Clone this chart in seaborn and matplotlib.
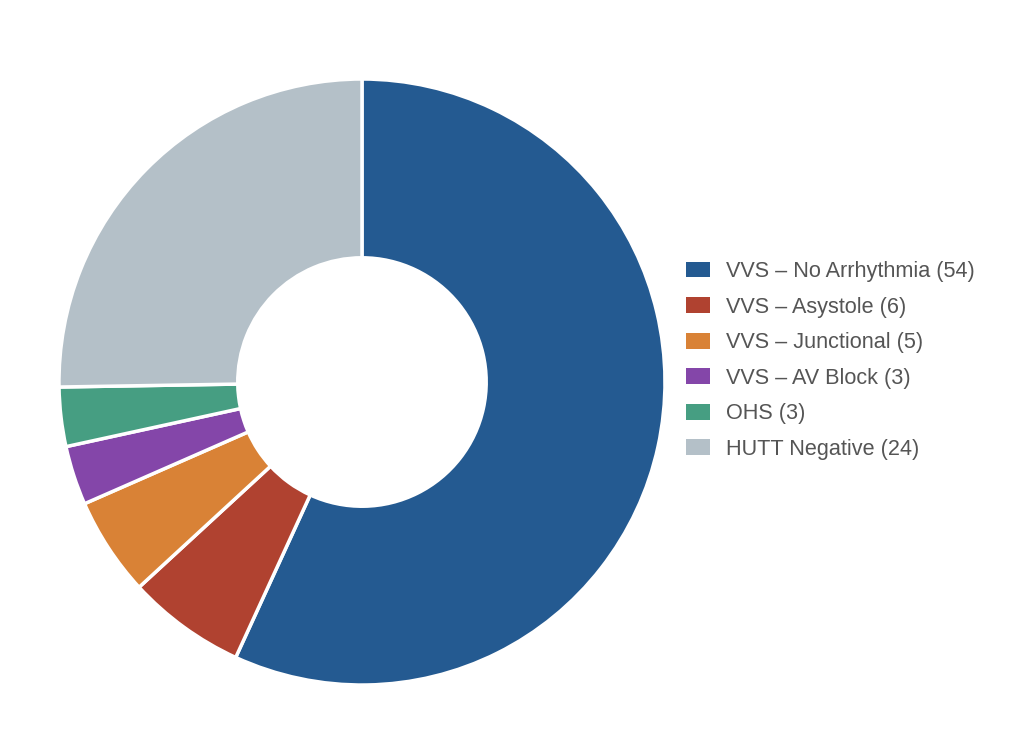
import matplotlib
matplotlib.use("Agg")
import matplotlib.pyplot as plt
import matplotlib.patches as mpatches
import seaborn as sns

categorias = ["VVS – No Arrhythmia", "VVS – Asystole", "VVS – Junctional",
              "VVS – AV Block", "OHS", "HUTT Negative"]
valores = [54, 6, 5, 3, 3, 24]
cores = ["#245a91", "#b04230", "#d98236", "#8446a9", "#469e82", "#b4c0c8"]

sns.set_theme(style="white")
plt.rcParams["font.family"] = ["Liberation Sans", "DejaVu Sans"]
paleta = sns.color_palette(cores)

fig = plt.figure(figsize=(10.24, 7.54), dpi=100)
ax = fig.add_axes([0.0576, 0.0915, 0.5918, 0.8037])

fatias, _ = ax.pie(
    valores, colors=paleta, startangle=90, counterclock=False, radius=1.0,
    wedgeprops=dict(width=0.59, edgecolor="white", linewidth=2.5),
)
ax.set_xlim(-1.0, 1.0)
ax.set_ylim(-1.0, 1.0)
ax.set_aspect("equal")
ax.axis("off")

rotulos = [f"{c} ({v})" for c, v in zip(categorias, valores)]
alcas = [mpatches.Patch(facecolor=cor, edgecolor="none") for cor in paleta]
leg = fig.legend(
    alcas, rotulos, loc="center left", bbox_to_anchor=(0.651, 0.522),
    frameon=False, fontsize=15.6, handlelength=1.12, handleheight=0.75,
    handletextpad=0.7, labelspacing=0.67,
)
for t in leg.get_texts():
    t.set_color("#555555")

fig.savefig("out.png", dpi=100, facecolor="white")
